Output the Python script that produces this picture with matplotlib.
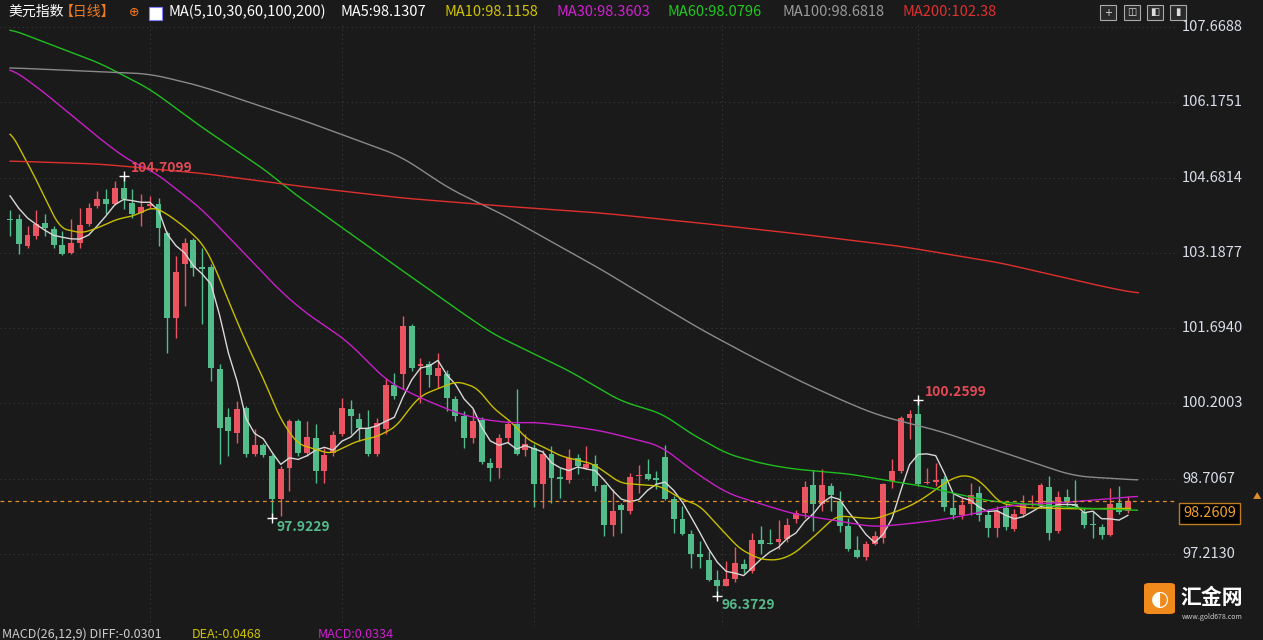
import matplotlib
matplotlib.use("Agg")
import matplotlib.pyplot as plt
from matplotlib.patches import FancyBboxPatch, Rectangle
import numpy as np

plt.rcParams['font.family'] = ['Noto Sans CJK SC', 'DejaVu Sans']

# ---- daily candles (open, high, low, close) ----
opens = [103.86,103.86,103.32,103.52,103.78,103.66,103.34,103.19,103.38,103.76,104.12,104.26,104.16,104.48,104.18,103.98,104.12,104.16,103.58,101.90,
         102.97,103.44,102.91,102.91,100.88,99.93,99.61,100.11,99.20,99.38,99.16,98.30,98.92,99.85,99.22,99.52,98.86,99.22,99.59,100.09,
         99.89,99.71,99.20,99.69,100.56,100.78,101.73,100.94,100.98,100.74,100.78,100.29,99.95,99.52,99.87,99.02,98.92,99.52,99.79,99.27,
         99.32,98.60,99.20,98.74,98.68,99.12,98.92,99.00,98.58,97.79,98.19,98.07,98.76,98.80,98.72,99.14,98.30,97.91,97.61,97.21,
         97.09,96.69,96.58,96.72,97.01,96.88,97.49,97.43,97.45,97.51,97.91,98.03,98.58,98.21,98.56,98.26,97.77,97.29,97.15,97.41,
         97.53,98.66,98.86,99.91,99.99,98.62,98.64,98.70,98.13,97.99,98.21,98.42,97.99,97.73,98.13,97.71,98.01,98.19,98.17,98.54,
         97.67,98.34,98.21,98.05,97.81,97.75,97.59,98.23,98.07]
highs = [104.04,103.96,103.72,104.04,103.96,103.72,103.62,103.86,104.08,104.18,104.42,104.45,104.61,104.7099,104.45,104.36,104.32,104.28,103.62,103.13,
         103.48,103.48,103.28,102.97,100.98,100.11,100.25,100.15,99.69,99.42,99.20,98.96,99.89,99.89,99.85,99.79,99.32,99.65,100.31,100.27,
         100.01,100.07,99.91,100.70,100.80,101.93,101.78,101.10,101.04,101.20,100.86,100.35,100.05,100.09,99.93,99.12,99.59,99.85,100.49,99.59,
         99.40,99.28,99.36,98.92,99.30,99.20,99.36,99.18,98.60,98.50,98.23,98.82,98.98,99.10,98.86,99.38,98.36,98.17,97.69,97.47,
         97.27,96.90,97.07,97.35,97.11,97.63,97.77,97.71,97.89,97.93,98.09,98.66,98.88,98.90,98.62,98.46,97.93,97.57,97.47,97.67,
         98.62,99.10,99.95,100.07,100.2599,98.92,99.02,98.76,98.40,98.32,98.62,98.56,98.11,98.17,98.21,98.11,98.38,98.38,98.62,98.76,
         98.46,98.50,98.68,98.13,98.07,97.81,98.52,98.56,98.36]
lows = [103.52,103.17,103.28,103.46,103.52,103.28,103.15,103.17,103.28,103.72,104.08,103.96,104.14,104.06,103.88,103.72,104.08,103.32,101.20,101.50,
        102.13,102.73,101.78,100.64,99.00,99.16,99.42,99.14,99.16,99.14,97.9229,97.97,98.46,99.16,99.16,98.62,98.62,99.16,99.55,99.59,
        99.45,99.16,99.16,99.59,100.29,100.49,100.84,100.21,100.52,100.51,100.05,99.85,99.32,99.42,99.00,98.66,98.72,99.42,99.18,99.16,
        98.15,98.13,98.22,98.32,98.62,98.80,98.90,98.46,97.57,97.57,97.63,98.01,98.42,98.68,98.50,98.28,97.63,97.59,96.94,96.94,
        96.68,96.3729,96.58,96.66,96.84,96.84,97.21,97.41,97.31,97.45,97.83,97.93,97.67,98.07,98.07,97.65,97.27,97.13,97.09,97.39,
        97.43,98.52,98.82,99.50,98.56,98.60,98.56,98.07,97.91,97.91,97.99,97.87,97.55,97.55,97.69,97.67,97.95,98.17,98.13,97.49,
        97.63,98.17,98.13,97.73,97.53,97.51,97.57,98.01,98.03]
closes = [103.84,103.36,103.54,103.76,103.68,103.34,103.17,103.38,103.74,104.08,104.26,104.16,104.48,104.26,103.96,104.10,104.16,103.68,101.90,102.81,
          103.38,102.89,102.87,100.90,99.71,99.65,100.09,99.20,99.38,99.18,98.30,98.90,99.85,99.22,99.54,98.86,99.18,99.57,100.11,99.95,
          99.71,99.20,99.81,100.56,100.35,101.73,100.90,100.98,100.76,100.90,100.31,99.95,99.52,99.85,99.04,98.92,99.52,99.79,99.20,99.40,
          98.60,99.20,98.72,98.70,99.12,98.96,99.00,98.56,97.79,98.07,98.09,98.74,98.78,98.70,98.68,98.30,97.91,97.61,97.21,97.15,
          96.69,96.58,96.72,97.03,96.91,97.49,97.41,97.42,97.51,97.79,98.03,98.54,98.21,98.58,98.38,97.77,97.31,97.15,97.41,97.57,
          98.60,98.86,99.91,99.99,98.60,98.64,98.68,98.15,97.99,98.19,98.38,97.99,97.73,98.07,97.75,98.01,98.21,98.21,98.58,97.63,
          98.34,98.23,98.17,97.79,97.79,97.59,98.21,98.05,98.2609]
prior_closes = [104.60, 104.50, 104.40, 104.26]

# ---- moving averages (sampled at candle index) ----
ma10_i = [0,2.5,5.7,8.2,10,12.3,14.1,16.4,18,20.3,22.1,23.3,25.5,27.1,29,30.9,32.9,36.7,39.7,42,44.3,45.5,47,48.9,51.2,53.5,55.3,57.3,59.2,61.5,63,66.8,69.9,74.5,76.7,79,81.3,83.6,85.9,87.9,89.7,92.4,94.3,95.1,97.4,99.1,101.4,103.1,104.8,106.5,108.2,109.7,111.1,113.4,116.5,121.8,128.3]
ma10_v = [105.61,104.81,103.68,103.58,103.68,103.86,103.92,104.10,103.96,103.66,103.36,102.97,102.03,101.38,100.70,99.91,99.40,99.20,99.45,99.54,99.75,100.05,100.35,100.49,100.64,100.51,100.11,99.85,99.49,99.30,99.16,99.00,98.62,98.56,98.32,98.17,97.73,97.31,97.11,97.09,97.21,97.61,97.93,97.97,97.93,97.91,98.05,98.17,98.34,98.56,98.74,98.78,98.66,98.22,98.13,98.11,98.12]
ma30_i = [0,3.4,6.9,10.3,13.7,16.4,21.8,25.5,30.6,33.6,38.6,43.2,47,51.2,53.8,57.6,59.9,64.1,67.9,74.5,78.2,82.1,85.9,89.7,96.2,98.9,102.7,106.5,110.3,114.2,118,121.8,129.1]
ma30_v = [106.86,106.44,105.94,105.45,105.01,104.81,104.08,103.42,102.49,102.03,101.44,100.64,100.31,100.01,99.89,99.81,99.83,99.75,99.65,99.36,98.86,98.42,98.21,98.01,97.83,97.75,97.81,97.89,98.01,98.17,98.21,98.25,98.36]
ma60_i = [0,10.3,16,21.8,29.4,32.1,41.8,51.5,55.3,64.1,69.9,74.8,77.5,82.1,86.3,89.7,96.2,100.8,104.6,108.5,112.3,116,121.8,129.1]
ma60_v = [107.63,106.95,106.44,105.70,104.81,104.42,103.22,102.03,101.58,100.84,100.25,99.99,99.65,99.20,99.00,98.90,98.80,98.66,98.56,98.40,98.26,98.21,98.13,98.08]
ma100_i = [0,16,21.8,33.2,44.7,50.4,56.1,61.9,67.6,73.3,79,84.8,90.5,96.2,99.7,106.5,114.2,121.8,129.1]
ma100_v = [106.86,106.74,106.50,105.84,105.11,104.45,103.98,103.42,102.87,102.27,101.68,101.14,100.64,100.19,99.95,99.65,99.20,98.76,98.68]
ma200_i = [0,10.3,21.8,33.2,44.7,56.1,67.6,79,90.5,101.9,113.4,124.9,129.2]
ma200_v = [105.01,104.95,104.77,104.51,104.28,104.12,103.98,103.78,103.56,103.32,102.99,102.53,102.38]

yticks = [107.6688, 106.1751, 104.6814, 103.1877, 101.6940, 100.2003, 98.7067, 97.2130]
last_price = 98.2609
month_starts = [16, 38, 60, 81.5, 104]

BG = '#1a1a1a'
RED = '#eb5461'
GREEN = '#52bd8b'

W, H = 1263, 640
fig = plt.figure(figsize=(W/100, H/100), dpi=100, facecolor=BG)
ax = fig.add_axes([0, 1-626/H, 1175/W, 603/H])
ax.set_facecolor(BG)
ax.set_xlim(-1.15, 133.4)
ax.set_ylim(95.785, 107.749)
for s in ax.spines.values():
    s.set_visible(False)
ax.set_xticks([]); ax.set_yticks([])

for yv in yticks:
    ax.axhline(yv, color='#3a3a3a', lw=0.8, ls=(0, (1, 3)), zorder=0)
for xv in month_starts:
    ax.axvline(xv, color='#3a3a3a', lw=0.8, ls=(0, (1, 3)), zorder=0)

n = len(closes)
idx = np.arange(n)
o = np.array(opens); c = np.array(closes); h = np.array(highs); l = np.array(lows)
up = c >= o
cols = np.where(up, RED, GREEN)
ax.vlines(idx, l, h, colors=cols, lw=1.0, zorder=2)
body_h = np.maximum(np.abs(c - o), 0.02)
ax.bar(idx, body_h, bottom=np.minimum(o, c), width=0.68, color=cols, zorder=3, linewidth=0)

def smooth(xs, ys, win=2.0):
    xs = np.asarray(xs, float); ys = np.asarray(ys, float)
    fx = np.linspace(xs[0], xs[-1], int((xs[-1]-xs[0])*10)+1)
    fy = np.interp(fx, xs, ys)
    k = max(int(win*10), 1)
    pad = np.concatenate([np.full(k, fy[0]), fy, np.full(k, fy[-1])])
    ker = np.ones(2*k+1)/(2*k+1)
    sy = np.convolve(pad, ker, mode='same')[k:-k]
    return fx, sy

allc = np.array(prior_closes + closes)
ma5 = np.convolve(allc, np.ones(5)/5, mode='valid')
ax.plot(idx, ma5, color='#d8d8d8', lw=1.0, zorder=4)
for xs, ys, col, wn in [(ma10_i, ma10_v, '#c8bd00', 0.8), (ma30_i, ma30_v, '#c81fc8', 1.5), (ma60_i, ma60_v, '#1fbf1f', 1.5),
                        (ma100_i, ma100_v, '#8a8a8a', 2.0), (ma200_i, ma200_v, '#e0302e', 2.0)]:
    fx, fy = smooth(xs, ys, wn)
    ax.plot(fx, fy, color=col, lw=1.0, zorder=4)

ax.axhline(last_price, color='#e0902a', lw=0.9, ls=(0, (3, 3)), zorder=5)

# extremes
def mark(i, val, above, col):
    ax.plot(i, val, marker='+', color='white', ms=7, mew=1, zorder=6)
    if above:
        ax.text(i + 0.8, val + 0.08, f"{val:.4f}", color=col, fontsize=10, fontweight='bold', zorder=6)
    else:
        ax.text(i + 0.5, val - 0.25, f"{val:.4f}", color=col, fontsize=10, fontweight='bold', zorder=6)
imax = int(np.argmax(h)); imin = int(np.argmin(l))
mark(imax, h[imax], True, '#e04a55')
mark(104, h[104], True, '#e04a55')
mark(imin, l[imin], False, '#55b98a')
mark(30, l[30], False, '#55b98a')

# right axis labels
def ypix(p):
    lo, hi = ax.get_ylim()
    return (1-626/H) + (p - lo)/(hi - lo) * (603/H)
for yv in yticks:
    fig.text(1182/W, ypix(yv), f"{yv:.4f}", color='#d8dde8', fontsize=10.5, va='center', ha='left')
fig.text(1183/W, ypix(last_price) - 12/H, f"{last_price:.4f}", color='#f0a030', fontsize=10.5, va='center', ha='left',
         bbox=dict(boxstyle='square,pad=0.25', fc='black', ec='#c07a20', lw=1))
fig.text(1257/W, ypix(last_price) + 5/H, '▲', color='#e0902a', fontsize=6, ha='center', va='center')

# top legend
ty = 1 - 12/H
fig.text(8/W, ty, '美元指数', color='white', fontsize=10, va='center')
fig.text(60/W, ty, '【日线】', color='#f07a20', fontsize=10, va='center')
fig.text(129/W, ty, '⊕', color='#f07a20', fontsize=9, va='center', family=['DejaVu Sans'])
fig.patches.append(Rectangle((149/W, 1-20/H), 13/W, 13/H, transform=fig.transFigure, fc='white', ec='#8080ff', lw=0.8))
items = [('MA(5,10,30,60,100,200)', 'white', 168), ('MA5:98.1307', 'white', 340), ('MA10:98.1158', '#d0c400', 444),
         ('MA30:98.3603', '#d020d0', 556), ('MA60:98.0796', '#20c820', 668), ('MA100:98.6818', '#9a9a9a', 782),
         ('MA200:102.38', '#e03030', 902)]
for t, col, x in items:
    fig.text(x/W, ty, t, color=col, fontsize=10.5, va='center')
for k, x in enumerate([1100, 1124, 1147, 1170]):
    fig.patches.append(Rectangle((x/W, 1-20/H), 16/W, 15/H, transform=fig.transFigure, fc='#2a2a2a', ec='#aaaaaa', lw=0.8))
    fig.text((x+8)/W, 1-12.5/H, ['+', '◫', '◧', '▮'][k], color='#dddddd', fontsize=7, ha='center', va='center', family=['DejaVu Sans'])

# bottom MACD caption
by = 1 - 634/H
fig.text(2/W, by, 'MACD(26,12,9) DIFF:-0.0301', color='#cccccc', fontsize=9, va='center')
fig.text(192/W, by, 'DEA:-0.0468', color='#d0c400', fontsize=9, va='center')
fig.text(318/W, by, 'MACD:0.0334', color='#d020d0', fontsize=9, va='center')

# logo
fig.patches.append(FancyBboxPatch((1144/W, 1-614/H), 31/W, 31/H, boxstyle='round,pad=0,rounding_size=0.004',
                                  transform=fig.transFigure, fc='#f08a1c', ec='none'))
fig.text(1159.5/W, 1-599/H, '◐', color='white', fontsize=15, ha='center', va='center', family=['DejaVu Sans'])
fig.text(1180/W, 1-598/H, '汇金网', color='white', fontsize=15, fontweight='bold', va='center')
fig.text(1182/W, 1-617/H, 'www.gold678.com', color='#cccccc', fontsize=5, va='center')

fig.savefig('out.png', dpi=100, facecolor=BG)
